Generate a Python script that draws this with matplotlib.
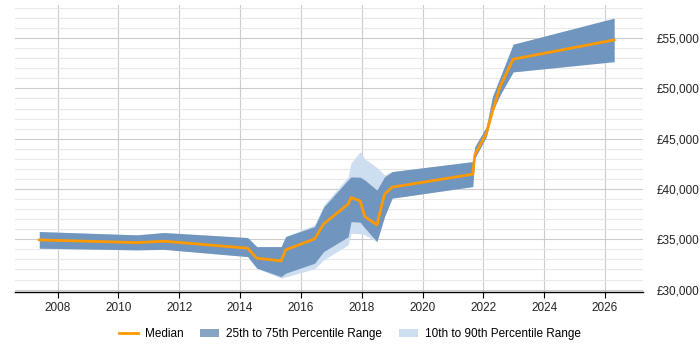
import matplotlib
matplotlib.use("Agg")
import matplotlib.pyplot as plt
from matplotlib.ticker import MultipleLocator, FuncFormatter
from matplotlib.patches import Patch
from matplotlib.lines import Line2D

# decimal years
years = [2007.4, 2010.6, 2011.5, 2014.25, 2014.55, 2015.35, 2015.5, 2016.45,
         2016.75, 2017.55, 2017.65, 2017.95, 2018.1, 2018.5, 2018.75, 2019.0,
         2021.65, 2021.72, 2022.1, 2022.3, 2022.55, 2022.98, 2026.3]

median = [34940, 34670, 34810, 34115, 33120, 32850, 33950, 35040,
          36530, 38490, 39150, 38820, 37260, 36430, 39480, 40180,
          41470, 43390, 45550, 47700, 50180, 52900, 54820]

p75 = [35770, 35440, 35670, 35170, 34270, 34270, 35270, 36260,
       38200, 40900, 41200, 41170, 40900, 39900, 41200, 41730,
       42720, 44210, 46200, 49190, 51100, 54390, 56980]

p25 = [34115, 33950, 34000, 33280, 32130, 31290, 31630, 32620,
       33780, 35240, 36760, 36700, 36130, 34770, 37260, 39090,
       40240, 43060, 45210, 47690, 49350, 51640, 52660]

p90 = [35770, 35440, 35670, 35170, 34270, 34270, 35270, 36430,
       38400, 41200, 42600, 43700, 43000, 42130, 41400, 41730,
       42720, 44210, 46200, 49190, 51100, 54390, 56980]

p10 = [34115, 33950, 34000, 33280, 32130, 31130, 31260, 32060,
       32950, 34440, 35600, 35550, 35450, 34770, 37260, 39090,
       40240, 43060, 45210, 47690, 49350, 51640, 52660]

dark = "#7096bf"
light = "#ccdef0"
orange = "#ff9900"

plt.rcParams["font.family"] = ["Liberation Sans", "DejaVu Sans"]

fig = plt.figure(figsize=(7, 3.5), dpi=100)
ax = fig.add_axes([0.0214, 0.166, 0.8972, 0.820])

ax.fill_between(years, p10, p90, color=light, lw=0, zorder=2)
ax.fill_between(years, p25, p75, color=dark, lw=0, zorder=3)
ax.plot(years, median, color=orange, lw=2, zorder=4)

ax.set_xlim(2006.6, 2027.25)
ax.set_ylim(29770, 58300)

ax.xaxis.set_major_locator(MultipleLocator(2))
ax.yaxis.set_major_locator(MultipleLocator(5000))
ax.yaxis.set_minor_locator(MultipleLocator(1000))
ax.yaxis.set_major_formatter(FuncFormatter(lambda v, p: f"£{int(v):,}"))

ax.grid(which="major", axis="both", color="#cccccc", lw=0.8, zorder=0)
ax.grid(which="minor", axis="y", color="#e8e8e8", lw=0.8, zorder=0)
ax.set_axisbelow(True)

for s in ["left", "right", "top"]:
    ax.spines[s].set_visible(False)
ax.spines["bottom"].set_color("black")
ax.spines["bottom"].set_linewidth(1)

ax.yaxis.tick_right()
ax.tick_params(axis="y", which="both", length=0, pad=10, labelsize=8.5, labelcolor="#222222")
ax.tick_params(axis="x", length=4, color="black", labelsize=8.5, labelcolor="#222222")

handles = [
    Line2D([0], [0], color=orange, lw=2),
    Patch(facecolor="#87a4c5", edgecolor="none"),
    Patch(facecolor=light, edgecolor="none"),
]
labels = ["Median", "25th to 75th Percentile Range", "10th to 90th Percentile Range"]
fig.legend(handles, labels, loc="center", bbox_to_anchor=(0.5, 0.045), ncol=3,
           frameon=False, fontsize=8.5, handlelength=1.6, columnspacing=1.4,
           handletextpad=0.6)

fig.savefig("out.png", dpi=100)
